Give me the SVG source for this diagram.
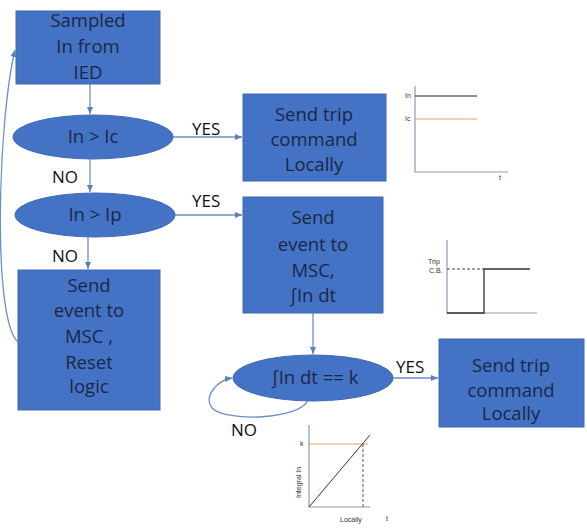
<svg xmlns="http://www.w3.org/2000/svg" width="587" height="528" viewBox="0 0 587 528">
<defs>
<marker id="ah" markerWidth="8" markerHeight="8" refX="7" refY="4" orient="auto" markerUnits="userSpaceOnUse">
<path d="M0,1 L7,4 L0,7 z" fill="#5B7FBF"/>
</marker>
<style>
.box{fill:#4472C4;stroke:#3F69B5;stroke-width:1}
.t{font-family:"Open Sans","Liberation Sans",sans-serif;font-size:18.5px;fill:#1A2847;text-anchor:middle}
.lbl{font-family:"Open Sans","Liberation Sans",sans-serif;font-size:17px;fill:#111}
.con{fill:none;stroke:#6D8FC9;stroke-width:1.3}
.ax{stroke:#8A9BB5;stroke-width:1.2;fill:none}
.sm{font-family:"Liberation Sans",sans-serif;font-size:7px;fill:#333}
</style>
</defs>
<rect width="587" height="528" fill="#fff"/>
<g id="connectors">
<line class="con" x1="90" y1="84" x2="90" y2="114" marker-end="url(#ah)"/>
<line class="con" x1="173" y1="137" x2="242" y2="137" marker-end="url(#ah)"/>
<line class="con" x1="90" y1="159" x2="90" y2="192" marker-end="url(#ah)"/>
<line class="con" x1="175" y1="215" x2="242" y2="215" marker-end="url(#ah)"/>
<line class="con" x1="88" y1="237" x2="88" y2="269" marker-end="url(#ah)"/>
<path class="con" d="M18,342 C-8,320 -2,120 15,50" marker-end="url(#ah)"/>
<line class="con" x1="313" y1="313" x2="313" y2="354" marker-end="url(#ah)"/>
<line class="con" x1="393" y1="378" x2="438" y2="378" marker-end="url(#ah)"/>
<path class="con" d="M308,400 C300,420 225,422 212,408 C203,396 218,380 232,378" marker-end="url(#ah)"/>
<text class="lbl" x="192" y="135">YES</text>
<text class="lbl" x="52" y="183">NO</text>
<text class="lbl" x="192" y="207">YES</text>
<text class="lbl" x="52" y="262">NO</text>
<text class="lbl" x="396" y="373">YES</text>
<text class="lbl" x="231" y="436">NO</text>
</g>
<g id="n1"><rect class="box" x="16" y="11" width="144" height="73"/>
<text class="t" x="88" y="27">Sampled</text><text class="t" x="88" y="53">In from</text><text class="t" x="88" y="79">IED</text></g>
<g id="d1"><ellipse class="box" cx="93" cy="137" rx="80" ry="22"/><text class="t" x="93" y="143">In &gt; Ic</text></g>
<g id="d2"><ellipse class="box" cx="95" cy="215" rx="80" ry="22"/><text class="t" x="95" y="221">In &gt; Ip</text></g>
<g id="n2"><rect class="box" x="18" y="270" width="142" height="140"/>
<text class="t" x="89" y="292">Send</text><text class="t" x="89" y="317">event to</text><text class="t" x="89" y="343">MSC ,</text><text class="t" x="89" y="369">Reset</text><text class="t" x="89" y="393">logic</text></g>
<g id="n3"><rect class="box" x="243" y="94" width="143" height="87"/>
<text class="t" x="314" y="121">Send trip</text><text class="t" x="314" y="146">command</text><text class="t" x="314" y="171">Locally</text></g>
<g id="n4"><rect class="box" x="243" y="197" width="140" height="116"/>
<text class="t" x="313" y="224">Send</text><text class="t" x="313" y="251">event to</text><text class="t" x="313" y="277">MSC,</text><text class="t" x="313" y="302">∫In dt</text></g>
<g id="d3"><ellipse class="box" cx="313" cy="378" rx="80" ry="23"/><text class="t" x="315" y="384">∫In dt == k</text></g>
<g id="n5"><rect class="box" x="439" y="339" width="145" height="88"/>
<text class="t" x="511" y="372">Send trip</text><text class="t" x="511" y="397">command</text><text class="t" x="511" y="420">Locally</text></g>
<g id="chart1">
<path class="ax" d="M415,86 V172 H508"/>
<line x1="415" y1="96" x2="477" y2="96" stroke="#222" stroke-width="1"/>
<line x1="415" y1="119" x2="477" y2="119" stroke="#E0A070" stroke-width="1"/>
<text class="sm" x="405" y="98">In</text><text class="sm" x="405" y="121">Ic</text><text class="sm" x="499" y="180">t</text>
</g>
<g id="chart2">
<path class="ax" d="M447,240 V313 H537"/>
<line x1="447" y1="269" x2="484" y2="269" stroke="#444" stroke-width="1" stroke-dasharray="3,2"/>
<path d="M447,313 H484 V269 H530" fill="none" stroke="#333" stroke-width="1.3"/>
<text class="sm" x="428" y="264">Trip</text><text class="sm" x="429" y="273">C.B.</text>
</g>
<g id="chart3">
<path class="ax" d="M309,425 V507 H370"/>
<line x1="309" y1="444" x2="368" y2="444" stroke="#E0A070" stroke-width="1"/>
<line x1="309" y1="507" x2="370" y2="435" stroke="#333" stroke-width="1"/>
<line x1="363" y1="444" x2="363" y2="507" stroke="#555" stroke-width="1" stroke-dasharray="3,2"/>
<text class="sm" x="300" y="446">k</text>
<text class="sm" transform="translate(301,498) rotate(-90)">Integral In</text>
<text class="sm" x="340" y="522">Locally</text><text class="sm" x="386" y="521">t</text>
</g>
</svg>
